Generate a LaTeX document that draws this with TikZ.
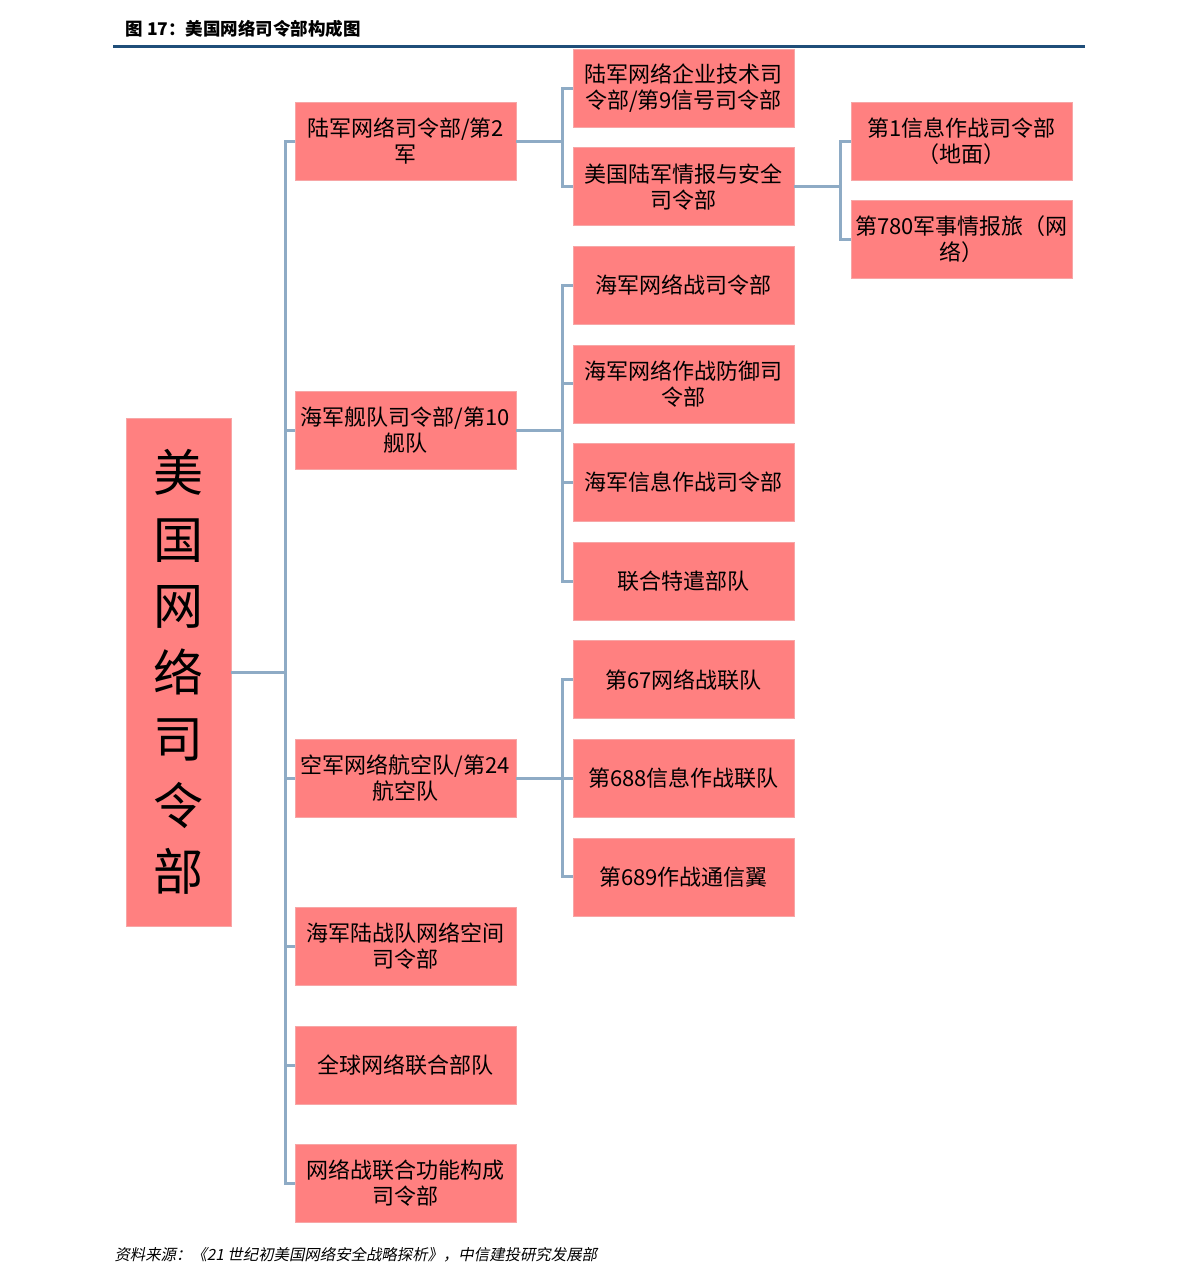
\documentclass[tikz,border=0pt]{standalone}
\usepackage{fontspec}
\setmainfont{Noto Sans CJK SC}
\newfontfamily\srcfont{Noto Sans CJK SC}[FakeSlant=0.2]
\usetikzlibrary{positioning}
\definecolor{boxred}{HTML}{FF8080}
\definecolor{boxedge}{HTML}{F7A6A6}
\definecolor{linkblue}{HTML}{8EABC5}
\definecolor{ruleblue}{HTML}{1F4E79}

\begin{document}
\begin{tikzpicture}[
  x=1pt, y=-1pt,
  node distance=20pt,
  box/.style={fill=boxred, draw=boxedge, line width=0.6pt, minimum width=221pt, minimum height=78pt,
    inner sep=2pt, align=center, font=\fontsize{22}{26}\selectfont},
  conn/.style={draw=linkblue, line width=3pt}
]
\useasboundingbox (0,0) rectangle (1191,1285);
% title and rule
\node[anchor=west, font=\fontsize{17.5}{20}\selectfont\bfseries] (title) at (122,29) {图 17：美国网络司令部构成图};
\draw[ruleblue, line width=3pt] (113,46) -- (1085,46);
% root
\node[box, minimum width=105pt, minimum height=508pt, font=\fontsize{50}{66.5}\selectfont] (root) at (178.5,672)
  {美\\国\\网\\络\\司\\令\\部};
% level 1
\node[box] (army) at (405.5,141) {陆军网络司令部/第2\\军};
\node[box] (navy) at (405.5,430) {海军舰队司令部/第10\\舰队};
\node[box] (air) at (405.5,778) {空军网络航空队/第24\\航空队};
\node[box] (marine) at (405.5,946) {海军陆战队网络空间\\司令部};
\node[box] (jfhq) at (405.5,1065) {全球网络联合部队};
\node[box] (jfcc) at (405.5,1183) {网络战联合功能构成\\司令部};
% level 2
\node[box] (netcom) at (683.5,88) {陆军网络企业技术司\\令部/第9信号司令部};
\node[box, below=of netcom] (inscom) {美国陆军情报与安全\\司令部};
\node[box, below=of inscom] (netwar) {海军网络战司令部};
\node[box, below=of netwar] (ncdoc) {海军网络作战防御司\\令部};
\node[box, below=of ncdoc] (nioc) {海军信息作战司令部};
\node[box, below=of nioc] (jtf) {联合特遣部队};
\node[box, below=of jtf] (nw67) {第67网络战联队};
\node[box, below=of nw67] (io688) {第688信息作战联队};
\node[box, below=of io688] (cw689) {第689作战通信翼};
% level 3
\node[box] (ioc1) at (961.5,141) {第1信息作战司令部\\（地面）};
\node[box] (mib780) at (961.5,239) {第780军事情报旅（网\\络）};
% connectors
\foreach \n in {army,navy,air,marine,jfhq,jfcc}
  \draw[conn] (root.east) -- ++(54,0) |- (\n.west);
\foreach \n in {netcom,inscom}
  \draw[conn] (army.east) -- ++(46,0) |- (\n.west);
\foreach \n in {netwar,ncdoc,nioc,jtf}
  \draw[conn] (navy.east) -- ++(46,0) |- (\n.west);
\foreach \n in {nw67,io688,cw689}
  \draw[conn] (air.east) -- ++(46,0) |- (\n.west);
\foreach \n in {ioc1,mib780}
  \draw[conn] (inscom.east) -- ++(46,0) |- (\n.west);
% source
\node[anchor=west, font=\fontsize{15.4}{18}\srcfont] (source) at (111,1255)
  {资料来源：《21 世纪初美国网络安全战略探析》，中信建投研究发展部};
\end{tikzpicture}
\end{document}
